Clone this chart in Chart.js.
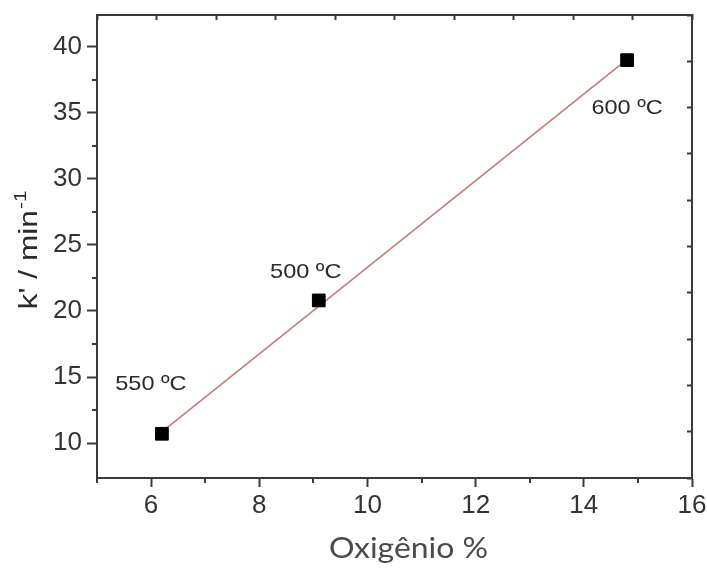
<!DOCTYPE html>
<html>
<head>
<meta charset="utf-8">
<script src="https://cdn.jsdelivr.net/npm/chart.js@4"></script>
<style>
  html, body { margin: 0; padding: 0; background: #fff; }
  #wrap { width: 707px; height: 568px; }
</style>
</head>
<body>
<div id="wrap"><canvas id="c" width="707" height="568"></canvas></div>
<script>
// Rate constant vs oxygen content, with linear fit
const oxygen = [6.2, 9.1, 14.8];
const rateConst = [10.7, 20.8, 39.0];
const tempLabels = ['550 ºC', '500 ºC', '600 ºC'];
const fitX = [6.2, 14.8];
const fitY = [10.85, 39.05];

const xMajorTicks = [6, 8, 10, 12, 14, 16];
const xMinorTicks = [5, 7, 9, 11, 13, 15];
const yMajorTicks = [10, 15, 20, 25, 30, 35, 40];
const yMinorTicks = [12.5, 17.5, 22.5, 27.5, 32.5, 37.5];
const frameTicks = [0, 1, 2, 3, 4, 5, 6, 7, 8, 9, 10];

const AXIS_COLOR = '#3a3a3a';
const TEXT_COLOR = '#2a2a2a';
const SANS = '"Liberation Sans", Arial, sans-serif';

// draw text stretched along its own direction
function stretchedText(ctx, text, x, y, sx) {
  ctx.save();
  ctx.translate(x, y);
  ctx.scale(sx, 1);
  ctx.fillText(text, 0, 0);
  ctx.restore();
}

// fixed box size, no extra label padding pushed into the layout
function fixBox(size) {
  return s => {
    if (s.isHorizontal()) s.height = size; else s.width = size;
    s.paddingTop = 0; s.paddingBottom = 0; s.paddingLeft = 0; s.paddingRight = 0;
  };
}

const decorations = {
  id: 'decorations',
  afterDraw(chart) {
    const { ctx, chartArea, scales: { x, y } } = chart;
    ctx.save();

    // minor tick marks on bottom and left axes
    ctx.strokeStyle = AXIS_COLOR;
    ctx.lineWidth = 2;
    ctx.beginPath();
    xMinorTicks.forEach(v => {
      const px = Math.round(x.getPixelForValue(v));
      ctx.moveTo(px, chartArea.bottom);
      ctx.lineTo(px, chartArea.bottom + 5);
    });
    yMinorTicks.forEach(v => {
      const py = Math.round(y.getPixelForValue(v));
      ctx.moveTo(chartArea.left, py);
      ctx.lineTo(chartArea.left - 5, py);
    });
    ctx.stroke();

    // temperature labels next to each point
    const offsets = [[-11, -50], [-13, -28], [0, 48]];
    ctx.fillStyle = TEXT_COLOR;
    ctx.font = '21px ' + SANS;
    ctx.textAlign = 'center';
    ctx.textBaseline = 'middle';
    tempLabels.forEach((t, i) => {
      const px = x.getPixelForValue(oxygen[i]) + offsets[i][0];
      const py = y.getPixelForValue(rateConst[i]) + offsets[i][1];
      stretchedText(ctx, t, px, py, 1.12);
    });

    // x axis title
    ctx.fillStyle = '#4a4a4a';
    ctx.font = '28px Lato, "Open Sans", sans-serif';
    ctx.textAlign = 'center';
    ctx.textBaseline = 'middle';
    stretchedText(ctx, 'Oxigênio %', (chartArea.left + chartArea.right) / 2 + 14, 549, 1.14);

    // y axis title with superscript
    ctx.fillStyle = TEXT_COLOR;
    const mainFont = '26px ' + SANS;
    const supFont = '17px ' + SANS;
    const sx = 1.22;
    ctx.font = mainFont;
    const mainW = ctx.measureText("k' / min").width * sx;
    ctx.font = supFont;
    const supW = ctx.measureText('-1').width * sx;
    const total = mainW + supW;
    ctx.translate(37, (chartArea.top + chartArea.bottom) / 2 + 4);
    ctx.rotate(-Math.PI / 2);
    ctx.textAlign = 'left';
    ctx.textBaseline = 'alphabetic';
    ctx.font = mainFont;
    stretchedText(ctx, "k' / min", -total / 2, 0, sx);
    ctx.font = supFont;
    stretchedText(ctx, '-1', -total / 2 + mainW + 1, -11, sx);

    ctx.restore();
  }
};

new Chart(document.getElementById('c'), {
  type: 'scatter',
  data: {
    datasets: [
      {
        label: 'fit',
        data: fitX.map((v, i) => ({ x: v, y: fitY[i] })),
        showLine: true,
        borderColor: '#c07c7c',
        borderWidth: 1.6,
        pointRadius: 0,
        fill: false,
        order: 2
      },
      {
        label: "k'",
        data: oxygen.map((v, i) => ({ x: v, y: rateConst[i] })),
        pointStyle: 'rect',
        pointRadius: 9,
        backgroundColor: '#000',
        borderColor: '#000',
        borderWidth: 1,
        order: 1
      }
    ]
  },
  options: {
    responsive: false,
    animation: false,
    devicePixelRatio: 1,
    layout: { padding: 0 },
    plugins: { legend: { display: false }, tooltip: { enabled: false } },
    scales: {
      x: {
        type: 'linear',
        position: 'bottom',
        min: 5,
        max: 16,
        afterBuildTicks: s => { s.ticks = xMajorTicks.map(v => ({ value: v })); },
        afterFit: fixBox(90),
        grid: { drawOnChartArea: false, tickLength: 9, tickWidth: 2, tickColor: AXIS_COLOR },
        border: { color: AXIS_COLOR, width: 2 },
        ticks: { color: '#333', padding: 3, maxRotation: 0, font: { size: 26, family: SANS } }
      },
      y: {
        type: 'linear',
        position: 'left',
        min: 7.35,
        max: 42.42,
        afterBuildTicks: s => { s.ticks = yMajorTicks.map(v => ({ value: v })); },
        afterFit: fixBox(97),
        grid: { drawOnChartArea: false, tickLength: 10, tickWidth: 2, tickColor: AXIS_COLOR },
        border: { color: AXIS_COLOR, width: 2 },
        ticks: { color: '#333', padding: 5, font: { size: 26, family: SANS } }
      },
      x2: {
        type: 'linear',
        position: 'top',
        min: 0,
        max: 10,
        afterBuildTicks: s => { s.ticks = frameTicks.map(v => ({ value: v })); },
        afterFit: fixBox(15),
        grid: { drawOnChartArea: false, tickLength: -5, tickWidth: 2, tickColor: AXIS_COLOR },
        border: { color: AXIS_COLOR, width: 2 },
        ticks: { display: false }
      },
      y2: {
        type: 'linear',
        position: 'right',
        min: 0,
        max: 10,
        afterBuildTicks: s => { s.ticks = frameTicks.map(v => ({ value: v })); },
        afterFit: fixBox(15),
        grid: { drawOnChartArea: false, tickLength: -5, tickWidth: 2, tickColor: AXIS_COLOR },
        border: { color: AXIS_COLOR, width: 2 },
        ticks: { display: false }
      }
    }
  },
  plugins: [decorations]
});
</script>
</body>
</html>
